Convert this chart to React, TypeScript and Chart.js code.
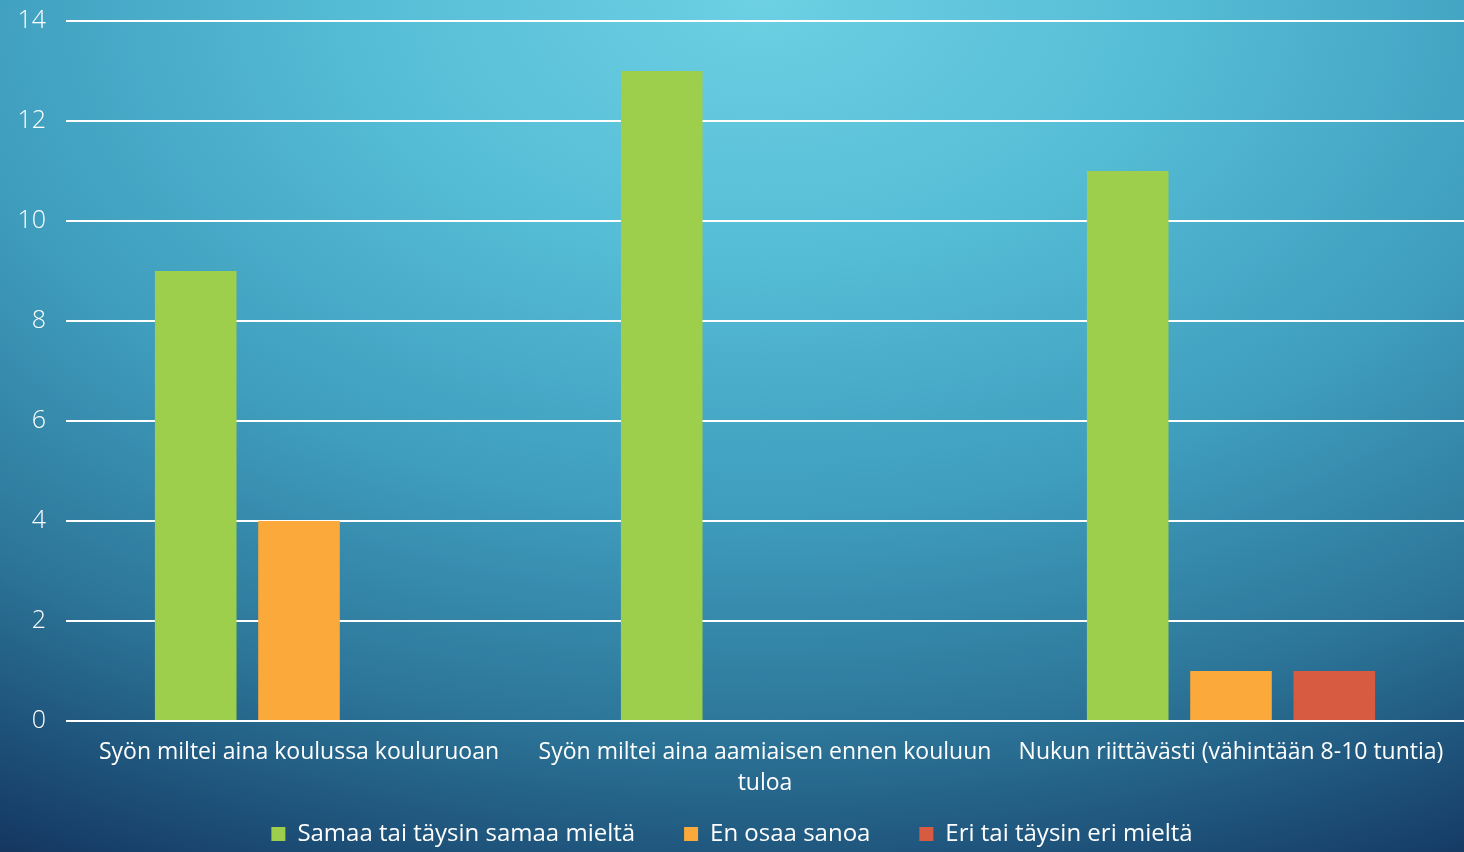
import React, { useEffect, useRef } from "react";
import { Chart, registerables } from "chart.js";

Chart.register(...registerables);

const categories: (string | string[])[] = [
  "Syön miltei aina koulussa kouluruoan",
  ["Syön miltei aina aamiaisen ennen kouluun", "tuloa"],
  "Nukun riittävästi (vähintään 8-10 tuntia)",
];
const seriesNames = ["Samaa tai täysin samaa mieltä", "En osaa sanoa", "Eri tai täysin eri mieltä"];
const agree = [9, 13, 11];
const unsure = [4, 0, 1];
const disagree = [0, 0, 1];
const colors = ["#9dcf4c", "#fba93b", "#d65b41"];

export default function App() {
  const ref = useRef<HTMLCanvasElement | null>(null);
  useEffect(() => {
    document.body.style.margin = "0";
    const font = "'Open Sans', 'Noto Sans', sans-serif";
    const chart = new Chart(ref.current!, {
      type: "bar",
      data: {
        labels: categories,
        datasets: [agree, unsure, disagree].map((d, i) => ({
          label: seriesNames[i],
          data: d,
          backgroundColor: colors[i],
          borderWidth: 0,
          barPercentage: 0.79,
          categoryPercentage: 0.665,
        })),
      },
      options: {
        animation: false,
        responsive: false,
        maintainAspectRatio: false,
        layout: { padding: { top: 21, right: 0, bottom: 0, left: 0 } },
        plugins: {
          legend: {
            position: "bottom",
            labels: {
              color: "#ffffff",
              font: { family: font, size: 24 },
              boxWidth: 14,
              boxHeight: 14,
              padding: 24,
              generateLabels: (c: any) => {
                const items = Chart.defaults.plugins.legend.labels.generateLabels(c);
                return items.map((it: any, i: number) => ({
                  ...it,
                  lineWidth: 0,
                  text: i < items.length - 1 ? it.text + "\u00a0\u00a0\u00a0\u00a0" : it.text,
                }));
              },
            },
          },
          tooltip: { enabled: false },
        },
        scales: {
          x: {
            grid: { display: false, drawTicks: false },
            border: { display: false },
            ticks: {
              color: "#ffffff",
              font: { family: font, size: 23, lineHeight: 1.35 },
              padding: 16,
              maxRotation: 0,
              autoSkip: false,
            },
            afterFit: (s: any) => {
              s.height = 77;
            },
          },
          y: {
            min: 0,
            max: 14,
            ticks: {
              stepSize: 2,
              color: "#ffffff",
              font: { family: font, size: 25, weight: "300" },
              padding: 20,
            },
            grid: { color: "#ffffff", lineWidth: 2, drawTicks: false },
            border: { display: false },
            afterFit: (s: any) => {
              s.width = 66;
              s.paddingTop = 0;
              s.paddingBottom = 0;
            },
          },
        },
      },
    });
    return () => chart.destroy();
  }, []);
  return (
    <div
      style={{
        width: 1464,
        height: 852,
        overflow: "hidden",
        background:
          "radial-gradient(ellipse 110% 120% at 52% 0%, #6dd0e3 0%, #55bdd6 25%, #3f9dbd 50%, #2c7598 72%, #17406a 92%, #132c55 100%)",
      }}
    >
      <canvas ref={ref} width={1464} height={856} style={{ display: "block" }} />
    </div>
  );
}
